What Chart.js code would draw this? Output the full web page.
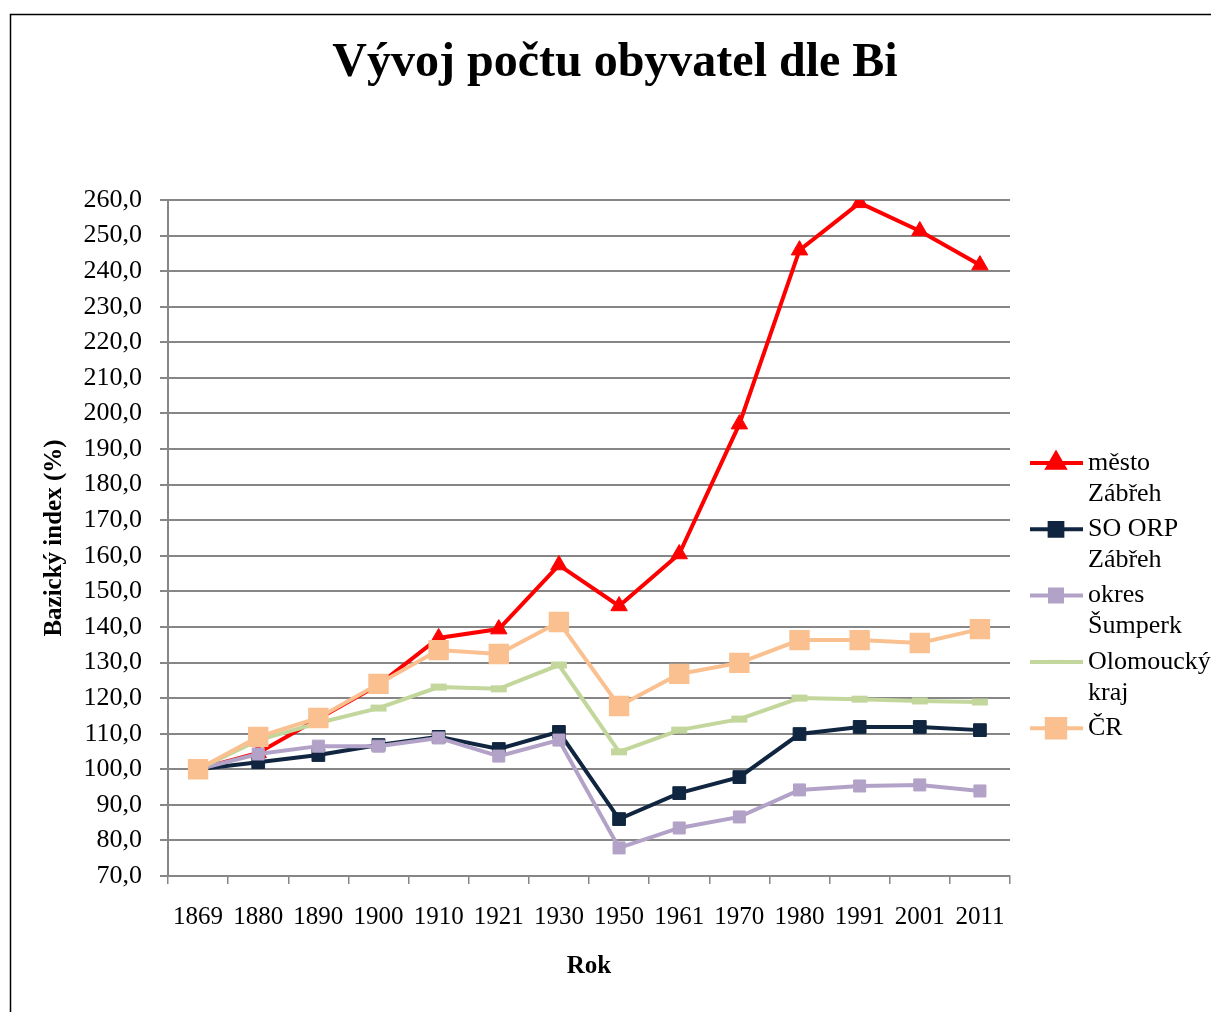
<!DOCTYPE html>
<html>
<head>
<meta charset="utf-8">
<style>
  html, body { margin: 0; padding: 0; background: #fff; }
  #wrap { width: 1211px; height: 1012px; position: relative; }
</style>
<script src="https://cdn.jsdelivr.net/npm/chart.js@4.4.1/dist/chart.umd.min.js"></script>
</head>
<body>
<div id="wrap"><canvas id="chart" width="1211" height="1012"></canvas></div>
<script>
// data
const years = ['1869', '1880', '1890', '1900', '1910', '1921', '1930', '1950', '1961', '1970', '1980', '1991', '2001', '2011'];
const mestoZabreh = [100.0, 104.6, 114.2, 123.7, 136.9, 139.4, 157.4, 145.9, 160.5, 197.0, 245.9, 259.2, 251.3, 241.7];
const soOrpZabreh = [100.0, 102.0, 104.0, 106.8, 109.1, 105.7, 110.5, 86.0, 93.3, 97.8, 109.9, 111.9, 111.9, 111.0];
const okresSumperk = [100.0, 104.3, 106.5, 106.5, 108.8, 103.7, 108.2, 77.9, 83.5, 86.6, 94.2, 95.3, 95.6, 93.9];
const olomouckyKraj = [100.0, 108.2, 113.0, 117.2, 123.1, 122.6, 129.3, 104.9, 111.0, 114.1, 120.0, 119.7, 119.2, 118.9];
const cr = [100.0, 109.1, 114.4, 124.0, 133.5, 132.4, 141.4, 117.8, 126.8, 129.9, 136.3, 136.3, 135.5, 139.4];

const chartTitle = 'Vývoj počtu obyvatel dle Bi';
const SERIF = '"Liberation Serif", "Times New Roman", serif';
const GRID = '#868686';

function series(label, data, color, style, radius, order, extra) {
    return Object.assign({
        label, data, order,
        borderColor: color, backgroundColor: color,
        pointBackgroundColor: color, pointBorderColor: color,
        pointStyle: style, pointRadius: radius, pointBorderWidth: 1,
        borderWidth: 4, tension: 0, fill: false
    }, extra || {});
}

const frameAndTitle = {
    id: 'frameAndTitle',
    beforeDraw(chart) {
        const c = chart.ctx;
        c.save();
        c.strokeStyle = '#000'; c.lineWidth = 1.5;
        c.strokeRect(10.5, 14.5, 1260, 1060);
        c.fillStyle = '#000';
        c.font = 'bold 48px ' + SERIF;
        c.textAlign = 'center'; c.textBaseline = 'middle';
        c.fillText(chartTitle, 615, 64);
        c.restore();
    }
};

const sideLegend = {
    id: 'sideLegend',
    afterDraw(chart) {
        const c = chart.ctx;
        c.save();
        c.font = '26px ' + SERIF;
        c.textBaseline = 'middle';
        let y = 463;
        chart.data.datasets.forEach(ds => {
            c.strokeStyle = ds.borderColor; c.lineWidth = 4;
            c.beginPath(); c.moveTo(1030, y); c.lineTo(1083, y); c.stroke();
            c.fillStyle = ds.borderColor;
            Chart.helpers.drawPoint(c, {
                pointStyle: ds.pointStyle, radius: ds.pointRadius, rotation: 0,
                borderWidth: ds.pointBorderWidth
            }, 1056, y);
            const cut = ds.label.lastIndexOf(' ');
            const lines = cut > 0 ? [ds.label.slice(0, cut), ds.label.slice(cut + 1)] : [ds.label];
            c.fillStyle = '#000';
            lines.forEach((t, i) => c.fillText(t, 1088, y + i * 31));
            y += 66.3;
        });
        c.restore();
    }
};

new Chart(document.getElementById('chart'), {
    type: 'line',
    data: {
        labels: years,
        datasets: [
            series('město Zábřeh', mestoZabreh, '#FF0000', 'triangle', 9.5, 5),
            series('SO ORP Zábřeh', soOrpZabreh, '#10253F', 'rect', 9, 4),
            series('okres Šumperk', okresSumperk, '#B3A2C7', 'rect', 8.5, 3),
            series('Olomoucký kraj', olomouckyKraj, '#C3D69B', 'line', 8, 2, { pointBorderWidth: 7 }),
            series('ČR', cr, '#FAC090', 'rect', 13, 1, { pointBorderWidth: 2 })
        ]
    },
    options: {
        responsive: false,
        animation: false,
        events: [],
        layout: { padding: { left: 10, right: 201, top: 200, bottom: 0 } },
        plugins: { legend: { display: false }, tooltip: { enabled: false }, title: { display: false } },
        scales: {
            x: {
                offset: true,
                afterFit(s) { s.height = 136; },
                grid: { offset: true, drawOnChartArea: false, color: GRID, lineWidth: 1.5, tickLength: 8 },
                border: { color: GRID, width: 2 },
                ticks: { color: '#000', font: { family: SERIF, size: 25 }, padding: 18, maxRotation: 0, autoSkip: false },
                title: { display: true, text: 'Rok', color: '#000', font: { family: SERIF, size: 25, weight: 'bold' }, padding: { top: 30, bottom: 30 } }
            },
            y: {
                min: 70, max: 260,
                afterFit(s) { s.width = 158; },
                grid: { color: GRID, lineWidth: 2, tickLength: 8 },
                border: { color: GRID, width: 2 },
                ticks: {
                    stepSize: 10, color: '#000', padding: 18,
                    font: { family: SERIF, size: 26 },
                    callback: v => v.toFixed(1).replace('.', ',')
                },
                title: { display: true, text: 'Bazický index (%)', color: '#000', font: { family: SERIF, size: 25, weight: 'bold' }, padding: { top: 30, bottom: 30 } }
            }
        }
    },
    plugins: [frameAndTitle, sideLegend]
});
</script>
</body>
</html>
